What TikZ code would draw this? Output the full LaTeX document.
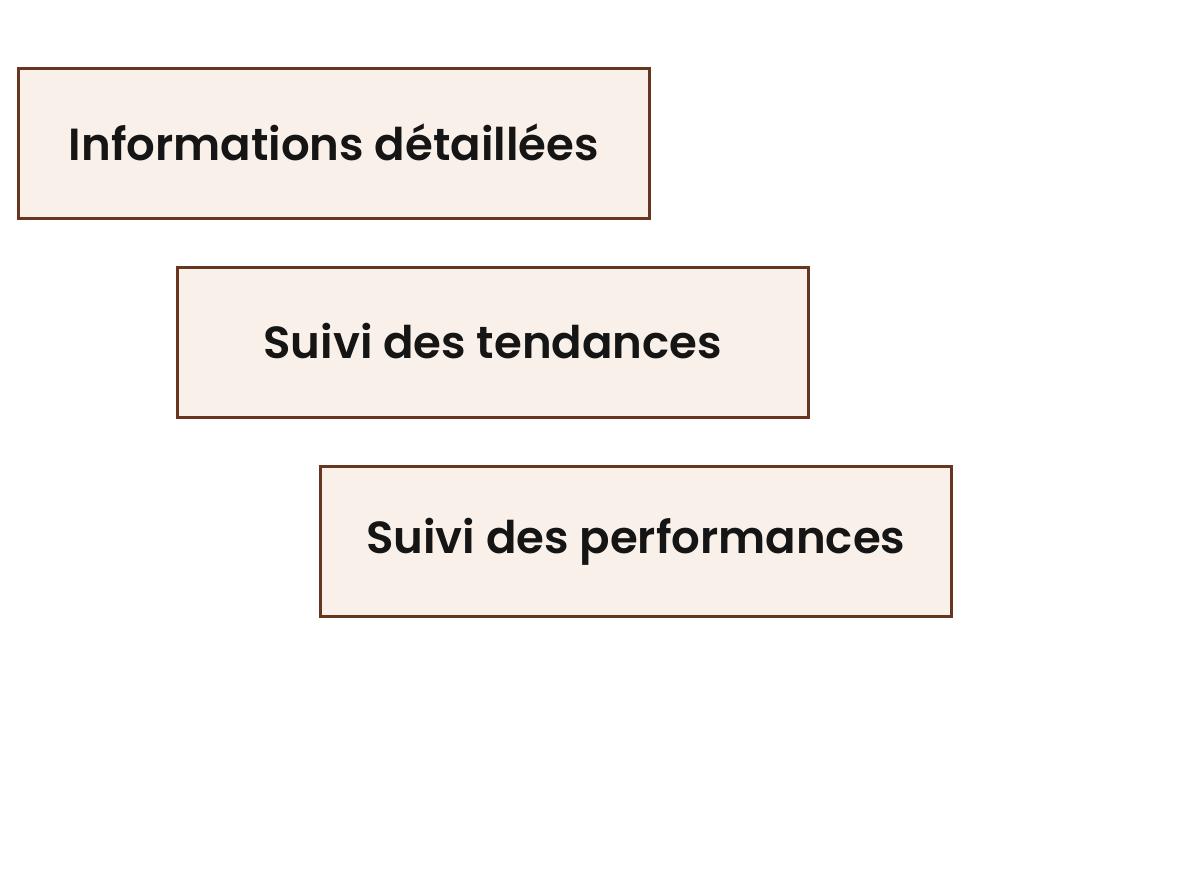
\documentclass[tikz,border=0pt]{standalone}
\usepackage{fontspec}
\setmainfont{Poppins}[UprightFont=* SemiBold]
\definecolor{boxfill}{HTML}{F9F1E9}
\definecolor{boxdraw}{HTML}{673520}
\definecolor{txt}{HTML}{151515}
\begin{document}
\begin{tikzpicture}[x=1pt,y=-1pt,
  card/.style={draw=boxdraw, line width=2.6pt, fill=boxfill, minimum width=631pt, minimum height=150pt, inner sep=0pt, anchor=north west, font=\fontsize{45}{50}\selectfont, text=txt},
  shade/.style={fill=black!22, draw=none, minimum width=631pt, minimum height=150pt, inner sep=0pt, anchor=north west}]
\useasboundingbox (0,0) rectangle (1193,896);
\fill[white] (0,0) rectangle (1193,896);
\node[shade] at (19.5,69.5) {};
\node[card] (a) at (17,67) {\raisebox{2pt}{Informations détaillées}};
\node[shade] at (178.5,268.5) {};
\node[card] (b) at (176,266) {\raisebox{2pt}{Suivi des tendances}};
\node[shade] at (321.5,467.5) {};
\node[card] (c) at (319,465) {\raisebox{2pt}{Suivi des performances}};
\end{tikzpicture}
\end{document}
